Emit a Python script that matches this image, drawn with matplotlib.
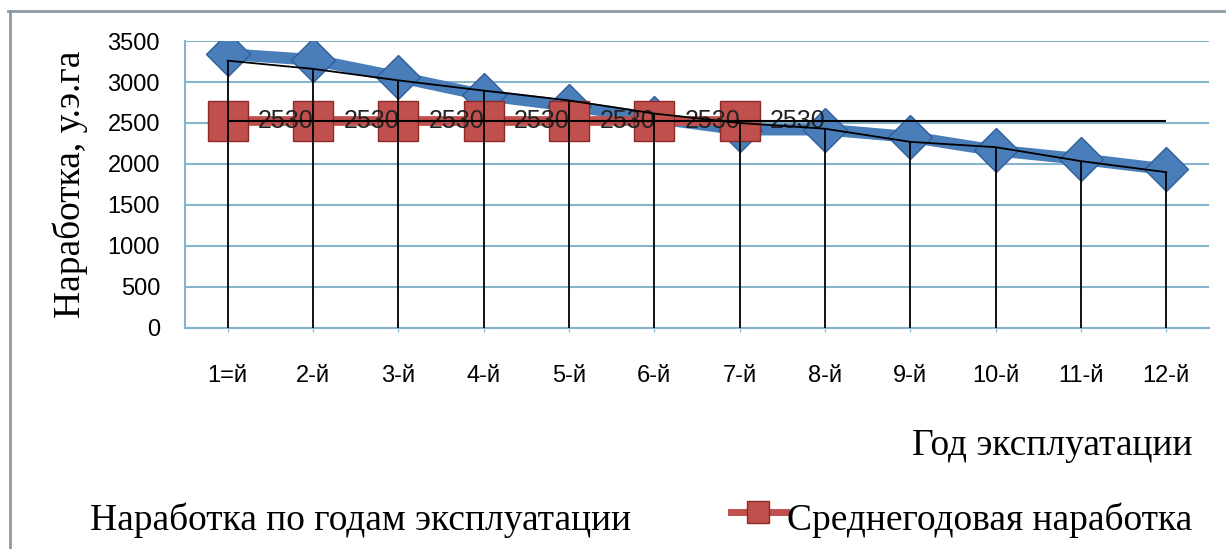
import numpy as np
import matplotlib
matplotlib.use('Agg')
import matplotlib.pyplot as plt
from matplotlib.lines import Line2D

# chart data
years = ['1=й', '2-й', '3-й', '4-й', '5-й', '6-й', '7-й', '8-й', '9-й', '10-й', '11-й', '12-й']
output_by_year = [3340, 3270, 3060, 2840, 2710, 2560, 2420, 2420, 2330, 2165, 2060, 1935]
avg_output = [2530, 2530, 2530, 2530, 2530, 2530, 2530]
trend = [3260, 3160, 3020, 2895, 2775, 2615, 2500, 2430, 2270, 2205, 2035, 1900]
avg_level = 2530
y_ticks = [0, 500, 1000, 1500, 2000, 2500, 3000, 3500]

BLUE = '#4a7ebb'
BLUE_DARK = '#2f5e9a'
RED = '#c0504d'
RED_DARK = '#8c2a28'
GRID = '#86b4cc'
SERIF = 'Liberation Serif'
SANS = 'Liberation Sans'


def main():
    fig = plt.figure(figsize=(12.26, 5.49), dpi=100)
    ax = fig.add_axes([0.1509, 0.4026, 0.8352, 0.5227])

    x = np.arange(len(years))

    # blue series - output per year
    ax.plot(x, output_by_year, color=BLUE, lw=8.5, marker='D', markersize=22,
            markerfacecolor=BLUE, markeredgecolor=BLUE_DARK, markeredgewidth=1,
            solid_capstyle='round', zorder=3)

    # red series - average output
    xa = x[:len(avg_output)]
    ax.plot(xa, avg_output, color=RED, lw=7, marker='s', markersize=29,
            markerfacecolor=RED, markeredgecolor=RED_DARK, markeredgewidth=1,
            zorder=4)
    for xi, v in zip(xa, avg_output):
        ax.annotate(str(v), (xi, v), xytext=(22, 0), textcoords='offset points',
                    ha='left', va='center', fontsize=18, family=SANS,
                    color='#222222', zorder=5)

    # hand drawn black lines: trend, drop lines, average level
    ax.plot(x, trend, color='black', lw=1.3, zorder=6)
    ax.vlines(x, 0, trend, color='black', lw=1.3, zorder=6)
    ax.hlines(avg_level, x[0], x[-1], color='black', lw=1.5, zorder=6)

    ax.set_xlim(-0.5, len(years) - 0.5)
    ax.set_ylim(0, 3500)
    ax.set_yticks(y_ticks)
    ax.set_xticks(x)
    ax.set_xticklabels(years, fontsize=17, family=SANS)
    ax.set_yticklabels([str(t) for t in y_ticks], fontsize=17, family=SANS)
    ax.tick_params(axis='y', length=0, pad=18)
    ax.tick_params(axis='x', length=3, color=GRID, pad=24)

    ax.grid(axis='y', color=GRID, lw=1.5, zorder=0)
    ax.set_axisbelow(True)
    for side in ['top', 'right']:
        ax.spines[side].set_visible(False)
    ax.spines['left'].set_color(GRID)
    ax.spines['bottom'].set_color(GRID)
    ax.spines['left'].set_linewidth(1.5)
    ax.spines['bottom'].set_linewidth(1.5)

    ax.set_ylabel('Наработка, у.э.га', fontsize=27, family=SERIF, labelpad=14)

    # axis title and legend, placed like in the original
    fig.text(0.973, 0.171, 'Год эксплуатации', ha='right', va='baseline',
             fontsize=27, family=SERIF)
    fig.text(0.0734, 0.035, 'Наработка по годам эксплуатации', ha='left',
             va='baseline', fontsize=27, family=SERIF)
    fig.text(0.642, 0.035, 'Среднегодовая наработка', ha='left',
             va='baseline', fontsize=27, family=SERIF)
    fig.add_artist(Line2D([0.596, 0.641], [0.067, 0.067], color=RED, lw=5))
    fig.add_artist(Line2D([0.6185], [0.067], color=RED, marker='s', markersize=16,
                          markeredgecolor=RED_DARK, linestyle='none'))

    # outer frame, only top and left edges are inside the picture
    fig.add_artist(Line2D([0.0065, 1.0], [0.980, 0.980], color='#8d9aa3', lw=2))
    fig.add_artist(Line2D([0.0082, 0.0082], [0.0, 0.980], color='#8d9aa3', lw=2))

    fig.savefig('out.png', dpi=100)


if __name__ == '__main__':
    main()
